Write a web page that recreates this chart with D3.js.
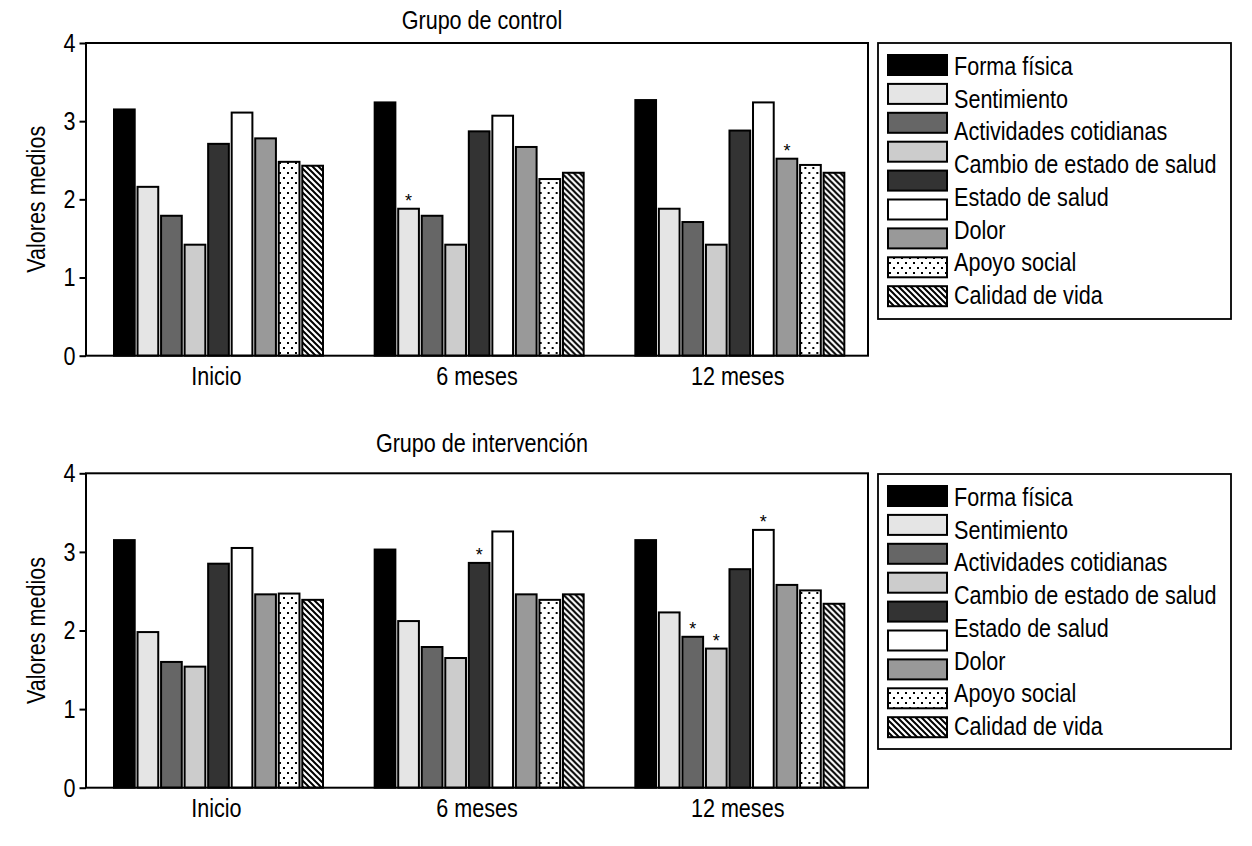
<!DOCTYPE html>
<html>
<head>
<meta charset="utf-8">
<title>Grupo de control / Grupo de intervención</title>
<script src="https://cdnjs.cloudflare.com/ajax/libs/d3/7.8.5/d3.min.js"></script>
<style>
	html, body { margin: 0; padding: 0; background: #fff; }
	svg text { font-family: "Liberation Sans", Arial, sans-serif; fill: #000; }
</style>
</head>
<body>
<svg id="chart" width="1252" height="846"></svg>
<script>
(function () {
'use strict';

// categories on the x axis
var categories = ["Inicio", "6 meses", "12 meses"];

// nine bars per category, in drawing order (fill keys)
var seriesFills = ["#000000", "#e5e5e5", "#666666", "#cccccc", "#333333", "#ffffff", "#999999", "url(#dots)", "url(#hatch)"];

// legend texts as printed (8 labels next to 9 swatches)
var legendLabels = ["Forma física", "Sentimiento", "Actividades cotidianas", "Cambio de estado de salud",
	"Estado de salud", "Dolor", "Apoyo social", "Calidad de vida"];

var yTicks = [0, 1, 2, 3, 4];

// Grupo de control: one row per category, one value per bar
var controlValues = [
	[3.15, 2.16, 1.79, 1.42, 2.71, 3.11, 2.78, 2.48, 2.43],
	[3.24, 1.88, 1.79, 1.42, 2.87, 3.07, 2.67, 2.26, 2.34],
	[3.27, 1.88, 1.71, 1.42, 2.88, 3.24, 2.52, 2.44, 2.34]
];
// [category index, bar index] of bars flagged with *
var controlMarks = [[1, 1], [2, 6]];

// Grupo de intervención
var interventionValues = [
	[3.15, 1.98, 1.60, 1.54, 2.85, 3.05, 2.46, 2.47, 2.39],
	[3.03, 2.12, 1.79, 1.65, 2.86, 3.26, 2.46, 2.39, 2.46],
	[3.15, 2.23, 1.92, 1.77, 2.78, 3.28, 2.58, 2.51, 2.34]
];
var interventionMarks = [[1, 4], [2, 2], [2, 3], [2, 5]];

var plotLeft = 86, plotRight = 868;
var legendLeft = 878, legendRight = 1231;
var fontSize = "26px";
var squeezeX = 0.83;   // the printed font is a condensed face

var panels = [
	{ title: "Grupo de control", values: controlValues, marks: controlMarks,
		top: 43, bottom: 355.7, titleY: 29, legendTop: 43, legendBottom: 319 },
	{ title: "Grupo de intervención", values: interventionValues, marks: interventionMarks,
		top: 473.3, bottom: 787.7, titleY: 452, legendTop: 474, legendBottom: 749 }
];

var svg = d3.select("#chart");

// move x/y of a text into a transform so it can be narrowed in place
var squeeze = function(sel){
	sel.each(function(){
		var t = d3.select(this);
		var tx = +t.attr("x") || 0, ty = +t.attr("y") || 0;
		var prev = t.attr("transform");
		t.attr("x", 0).attr("y", 0)
			.attr("transform", (prev ? prev + " " : "") + "translate(" + tx + "," + ty + ") scale(" + squeezeX + ",1)");
	});
};

// fill patterns for the last two series
var defs = svg.append("defs");
var dots = defs.append("pattern")
	.attr("id", "dots")
	.attr("patternUnits", "userSpaceOnUse")
	.attr("width", 8).attr("height", 10);
dots.append("rect").attr("width", 8).attr("height", 10).attr("fill", "#fff");
dots.append("rect").attr("x", 1).attr("y", 2).attr("width", 2).attr("height", 2).attr("fill", "#000");
dots.append("rect").attr("x", 5).attr("y", 7).attr("width", 2).attr("height", 2).attr("fill", "#000");

var hatch = defs.append("pattern")
	.attr("id", "hatch")
	.attr("patternUnits", "userSpaceOnUse")
	.attr("width", 6).attr("height", 6);
hatch.append("rect").attr("width", 6).attr("height", 6).attr("fill", "#fff");
hatch.append("path")
	.attr("d", "M-1,-1L7,7M-1,5L1,7M5,-1L7,1")
	.attr("stroke", "#000")
	.attr("stroke-width", 2);

var x0 = d3.scaleBand()
	.domain(categories)
	.range([plotLeft, plotRight]);

var x1 = d3.scaleBand()
	.domain(d3.range(seriesFills.length))
	.range([28, 237])
	.paddingInner(0.12);

var drawPanel = function(p){
	var y = d3.scaleLinear().domain([0, 4]).range([p.bottom, p.top]);
	var g = svg.append("g");

	// title
	g.append("text")
		.attr("x", 482)
		.attr("y", p.titleY)
		.attr("text-anchor", "middle")
		.attr("font-size", fontSize)
		.text(p.title)
		.call(squeeze);

	// y axis
	var yAxis = g.append("g")
		.attr("transform", "translate(" + plotLeft + ",0)")
		.call(d3.axisLeft(y).tickValues(yTicks).tickSize(6.5).tickPadding(4).tickFormat(d3.format("d")));
	yAxis.select(".domain").remove();
	yAxis.attr("font-family", null).attr("font-size", null);
	yAxis.selectAll(".tick line").attr("stroke", "#000").attr("stroke-width", 2);
	yAxis.selectAll(".tick text")
		.attr("font-size", fontSize)
		.call(squeeze);

	g.append("text")
		.attr("transform", "translate(45," + ((p.top + p.bottom) / 2) + ") rotate(-90) scale(" + squeezeX + ",1)")
		.attr("text-anchor", "middle")
		.attr("font-size", fontSize)
		.text("Valores medios");

	// category labels
	var xAxis = g.append("g")
		.attr("transform", "translate(0," + p.bottom + ")")
		.call(d3.axisBottom(x0).tickSize(0).tickPadding(11));
	xAxis.select(".domain").remove();
	xAxis.attr("font-family", null).attr("font-size", null);
	xAxis.selectAll(".tick text")
		.attr("font-size", fontSize)
		.call(squeeze);

	// bars
	var groups = g.selectAll("g.cat")
		.data(p.values)
		.enter().append("g")
			.attr("class", "cat")
			.attr("transform", function(d, i){ return "translate(" + x0(categories[i]) + ",0)"; });

	groups.selectAll("rect")
		.data(function(d){ return d; })
		.enter().append("rect")
			.attr("x", function(d, i){ return x1(i); })
			.attr("y", function(d){ return y(d); })
			.attr("width", x1.bandwidth())
			.attr("height", function(d){ return p.bottom - y(d); })
			.attr("fill", function(d, i){ return seriesFills[i]; })
			.attr("stroke", "#000")
			.attr("stroke-width", 2);

	// significance marks
	g.selectAll("text.mark")
		.data(p.marks)
		.enter().append("text")
			.attr("class", "mark")
			.attr("x", function(m){ return x0(categories[m[0]]) + x1(m[1]) + x1.bandwidth() / 2; })
			.attr("y", function(m){ return y(p.values[m[0]][m[1]]) - 2; })
			.attr("text-anchor", "middle")
			.attr("font-size", "18px")
			.text("*");

	// plot frame
	g.append("rect")
		.attr("x", plotLeft)
		.attr("y", p.top)
		.attr("width", plotRight - plotLeft)
		.attr("height", p.bottom - p.top)
		.attr("fill", "none")
		.attr("stroke", "#000")
		.attr("stroke-width", 2);

	// legend
	var lg = g.append("g");
	lg.append("rect")
		.attr("x", legendLeft)
		.attr("y", p.legendTop)
		.attr("width", legendRight - legendLeft)
		.attr("height", p.legendBottom - p.legendTop)
		.attr("fill", "#fff")
		.attr("stroke", "#000")
		.attr("stroke-width", 1.8);
	lg.selectAll("rect.swatch")
		.data(seriesFills)
		.enter().append("rect")
			.attr("class", "swatch")
			.attr("x", 888)
			.attr("y", function(d, i){ return p.legendTop + 12 + i * 28.9; })
			.attr("width", 59)
			.attr("height", 20)
			.attr("fill", function(d){ return d; })
			.attr("stroke", "#000")
			.attr("stroke-width", 2);
	lg.selectAll("text.label")
		.data(legendLabels)
		.enter().append("text")
			.attr("class", "label")
			.attr("x", 954)
			.attr("y", function(d, i){ return p.legendTop + 32 + i * 32.7; })
			.attr("font-size", fontSize)
			.text(function(d){ return d; })
			.call(squeeze);
};

panels.forEach(drawPanel);
console.log("[chart] panels drawn: %d", panels.length);

}());
</script>
</body>
</html>
